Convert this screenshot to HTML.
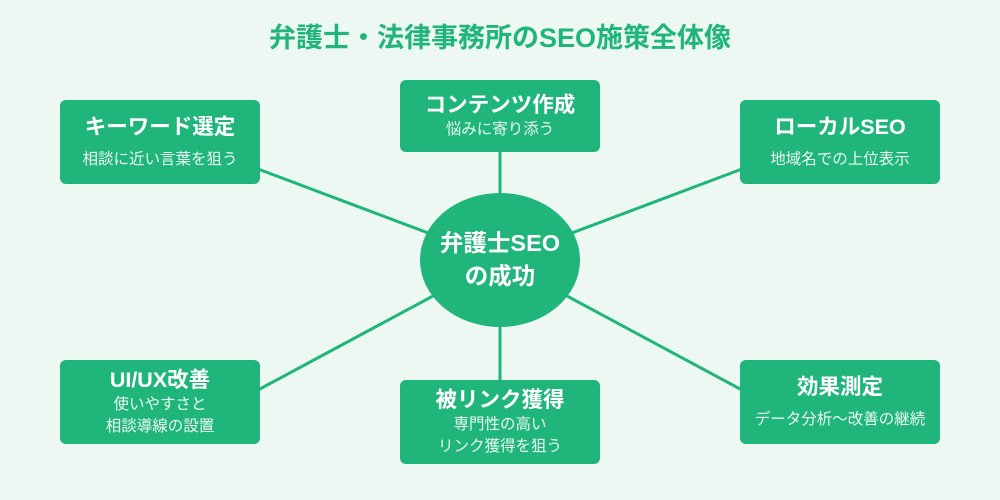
<!DOCTYPE html>
<html><head><meta charset="utf-8"><style>
body{margin:0;width:1000px;height:500px;background:#eef8f3;font-family:"Liberation Sans","Noto Sans CJK JP",sans-serif;position:relative;overflow:hidden}
.t{position:absolute;left:0;width:1000px;top:16px;text-align:center;font-size:27px;font-weight:bold;color:#1fb57b}
.b{position:absolute;width:200px;background:#1fb57b;border-radius:6px;color:#fff;text-align:center;box-sizing:border-box;display:flex;flex-direction:column;justify-content:center}
.h{font-size:21.5px;font-weight:bold;line-height:28px}
.s{font-size:15.5px;color:#eafaf2;line-height:22px}
.c{position:absolute;left:420px;top:193px;width:160px;height:134px;border-radius:50%;background:#1fb57b;color:#fff;font-weight:bold;font-size:23.5px;line-height:33px;display:flex;align-items:center;justify-content:center;text-align:center}
svg{position:absolute;left:0;top:0}
</style></head><body>
<div class="t">弁護士・法律事務所のSEO施策全体像</div>
<svg width="1000" height="500"><g stroke="#1fb57b" stroke-width="3">
<line x1="500" y1="260" x2="500" y2="150"/>
<line x1="500" y1="260" x2="500" y2="382"/>
<line x1="500" y1="260" x2="258" y2="169"/>
<line x1="500" y1="260" x2="742" y2="169"/>
<line x1="500" y1="260" x2="258" y2="390"/>
<line x1="500" y1="260" x2="742" y2="390"/>
</g></svg>
<div class="b" style="left:400px;top:80px;height:72px"><div class="h">コンテンツ作成</div><div class="s">悩みに寄り添う</div></div>
<div class="b" style="left:60px;top:100px;height:84px"><div class="h">キーワード選定</div><div class="s" style="margin-top:8px">相談に近い言葉を狙う</div></div>
<div class="b" style="left:740px;top:100px;height:84px"><div class="h">ローカルSEO</div><div class="s" style="margin-top:8px">地域名での上位表示</div></div>
<div class="b" style="left:60px;top:360px;height:84px"><div class="h">UI/UX改善</div><div class="s">使いやすさと<br>相談導線の設置</div></div>
<div class="b" style="left:400px;top:380px;height:84px"><div class="h">被リンク獲得</div><div class="s">専門性の高い<br>リンク獲得を狙う</div></div>
<div class="b" style="left:740px;top:360px;height:84px"><div class="h">効果測定</div><div class="s" style="margin-top:8px">データ分析〜改善の継続</div></div>
<div class="c">弁護士SEO<br>の成功</div>
</body></html>
